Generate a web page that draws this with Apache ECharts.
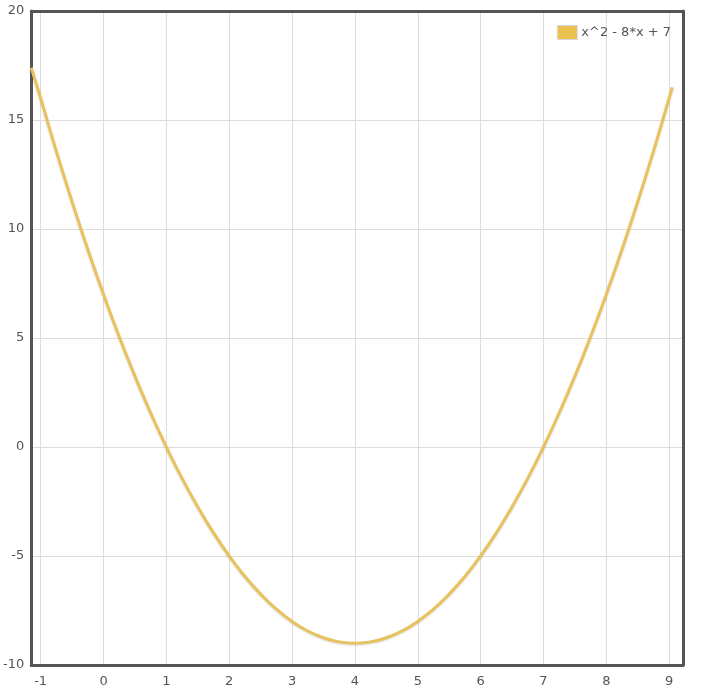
<!DOCTYPE html>
<html>
<head>
<meta charset="utf-8">
<script src="https://cdn.jsdelivr.net/npm/echarts@6/dist/echarts.min.js"></script>
<style>html,body{margin:0;padding:0;background:#fff;}#c{width:706px;height:693px;}</style>
</head>
<body>
<div id="c"></div>
<script>
const seriesName = 'x^2 - 8*x + 7';
const xValues = [-1.15, -1, -0.75, -0.5, -0.25, 0, 0.25, 0.5, 0.75, 1, 1.25, 1.5, 1.75, 2, 2.25, 2.5, 2.75, 3, 3.25, 3.5, 3.75, 4,
  4.25, 4.5, 4.75, 5, 5.25, 5.5, 5.75, 6, 6.25, 6.5, 6.75, 7, 7.25, 7.5, 7.75, 8, 8.25, 8.5, 8.75, 9, 9.05];
const yValues = [17.4, 16, 13.56, 11.25, 9.06, 7, 5.06, 3.25, 1.56, 0, -1.44, -2.75, -3.94, -5, -5.94, -6.75, -7.44, -8, -8.44, -8.75, -8.94, -9,
  -8.94, -8.75, -8.44, -8, -7.44, -6.75, -5.94, -5, -3.94, -2.75, -1.44, 0, 1.56, 3.25, 5.06, 7, 9.06, 11.25, 13.56, 16, 16.5];
const xRange = [-1.15, 9.22];
const yRange = [-10, 20];
const yInterval = 5;

const data = xValues.map((x, i) => [x, yValues[i]]);
const frameLine = {show: true, onZero: false, lineStyle: {color: '#555', width: 3}};
const chart = echarts.init(document.getElementById('c'));
chart.setOption({
  animation: false,
  backgroundColor: '#fff',
  textStyle: {fontFamily: 'DejaVu Sans'},
  grid: {left: 28, right: 23, top: 11, bottom: 28, show: false, containLabel: false},
  legend: {
    right: 30, top: 20, itemWidth: 20, itemHeight: 14, itemGap: 5,
    textStyle: {color: '#555', fontSize: 13, fontFamily: 'DejaVu Sans', padding: [0, 0, 0, -1]},
    itemStyle: {borderColor: '#d8d8d8', borderWidth: 1},
    data: [{name: seriesName, icon: 'rect'}]
  },
  xAxis: [{
    type: 'value', min: xRange[0], max: xRange[1], splitNumber: 10, position: 'bottom',
    axisLine: frameLine, axisTick: {show: false},
    axisLabel: {color: '#555', fontSize: 13, margin: 10, showMinLabel: false, showMaxLabel: false},
    splitLine: {show: true, lineStyle: {color: '#ddd', width: 1}}
  }, {
    type: 'value', min: xRange[0], max: xRange[1], position: 'top',
    axisLine: frameLine, axisTick: {show: false}, axisLabel: {show: false}, splitLine: {show: false}
  }],
  yAxis: [{
    type: 'value', min: yRange[0], max: yRange[1], interval: yInterval, position: 'left',
    axisLine: frameLine, axisTick: {show: false},
    axisLabel: {color: '#555', fontSize: 13, margin: 7},
    splitLine: {show: true, lineStyle: {color: '#ddd', width: 1}}
  }, {
    type: 'value', min: yRange[0], max: yRange[1], interval: yInterval, position: 'right',
    axisLine: frameLine, axisTick: {show: false}, axisLabel: {show: false}, splitLine: {show: false}
  }],
  series: [{
    name: seriesName, type: 'line', data: data, smooth: true, showSymbol: false,
    color: '#ebc24f',
    lineStyle: {color: '#e8c25c', width: 3, shadowColor: 'rgba(0,0,0,0.15)', shadowBlur: 2, shadowOffsetY: 1}
  }]
});
</script>
</body>
</html>
